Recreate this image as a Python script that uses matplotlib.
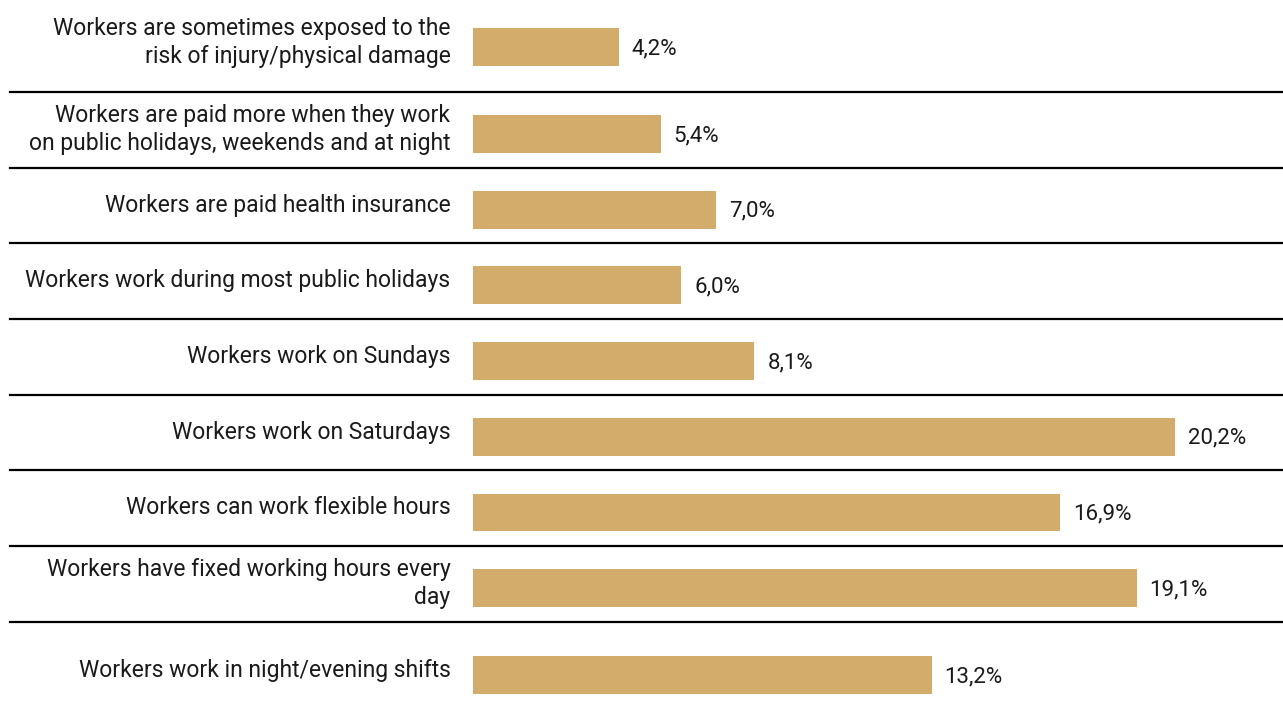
import numpy as np
import matplotlib
matplotlib.use("Agg")
import matplotlib.pyplot as plt

labels = [
    "Workers are sometimes exposed to the\nrisk of injury/physical damage",
    "Workers are paid more when they work\non public holidays, weekends and at night",
    "Workers are paid health insurance",
    "Workers work during most public holidays",
    "Workers work on Sundays",
    "Workers work on Saturdays",
    "Workers can work flexible hours",
    "Workers have fixed working hours every\nday",
    "Workers work in night/evening shifts",
]
values = [4.2, 5.4, 7.0, 6.0, 8.1, 20.2, 16.9, 19.1, 13.2]

BAR_COLOR = "#D3AB6A"
TEXT_COLOR = "#1a1a1a"
FONT = ["Roboto", "DejaVu Sans"]

fig = plt.figure(figsize=(12.83, 7.13), dpi=100)
ax = fig.add_axes([473 / 1283, 0, 810 / 1283, 1])

# rows are evenly spaced; the outer two sit a little further out
pos = np.arange(len(values), dtype=float)
pos[0] -= 0.15
pos[-1] += 0.15

ax.barh(pos, values, height=0.5, color=BAR_COLOR)
ax.set_xlim(0, 23.31)
ax.set_ylim(8.649, -0.770)

for y, v, lab in zip(pos, values, labels):
    ax.text(v + 0.37, y + 0.02, f"{v:.1f}%".replace(".", ","), ha="left", va="center",
            fontsize=16, color=TEXT_COLOR, family=FONT)
    ax.text(-0.65, y - 0.06, lab, ha="right", va="center", fontsize=16.5,
            color=TEXT_COLOR, family=FONT, linespacing=1.3)

# separators between rows, running into the label area
for k in range(len(values) - 1):
    ax.axhline(k + 0.445, xmin=-0.572, xmax=1, color="black", lw=1.6, clip_on=False)

ax.axis("off")
fig.savefig("out.png", dpi=100)
